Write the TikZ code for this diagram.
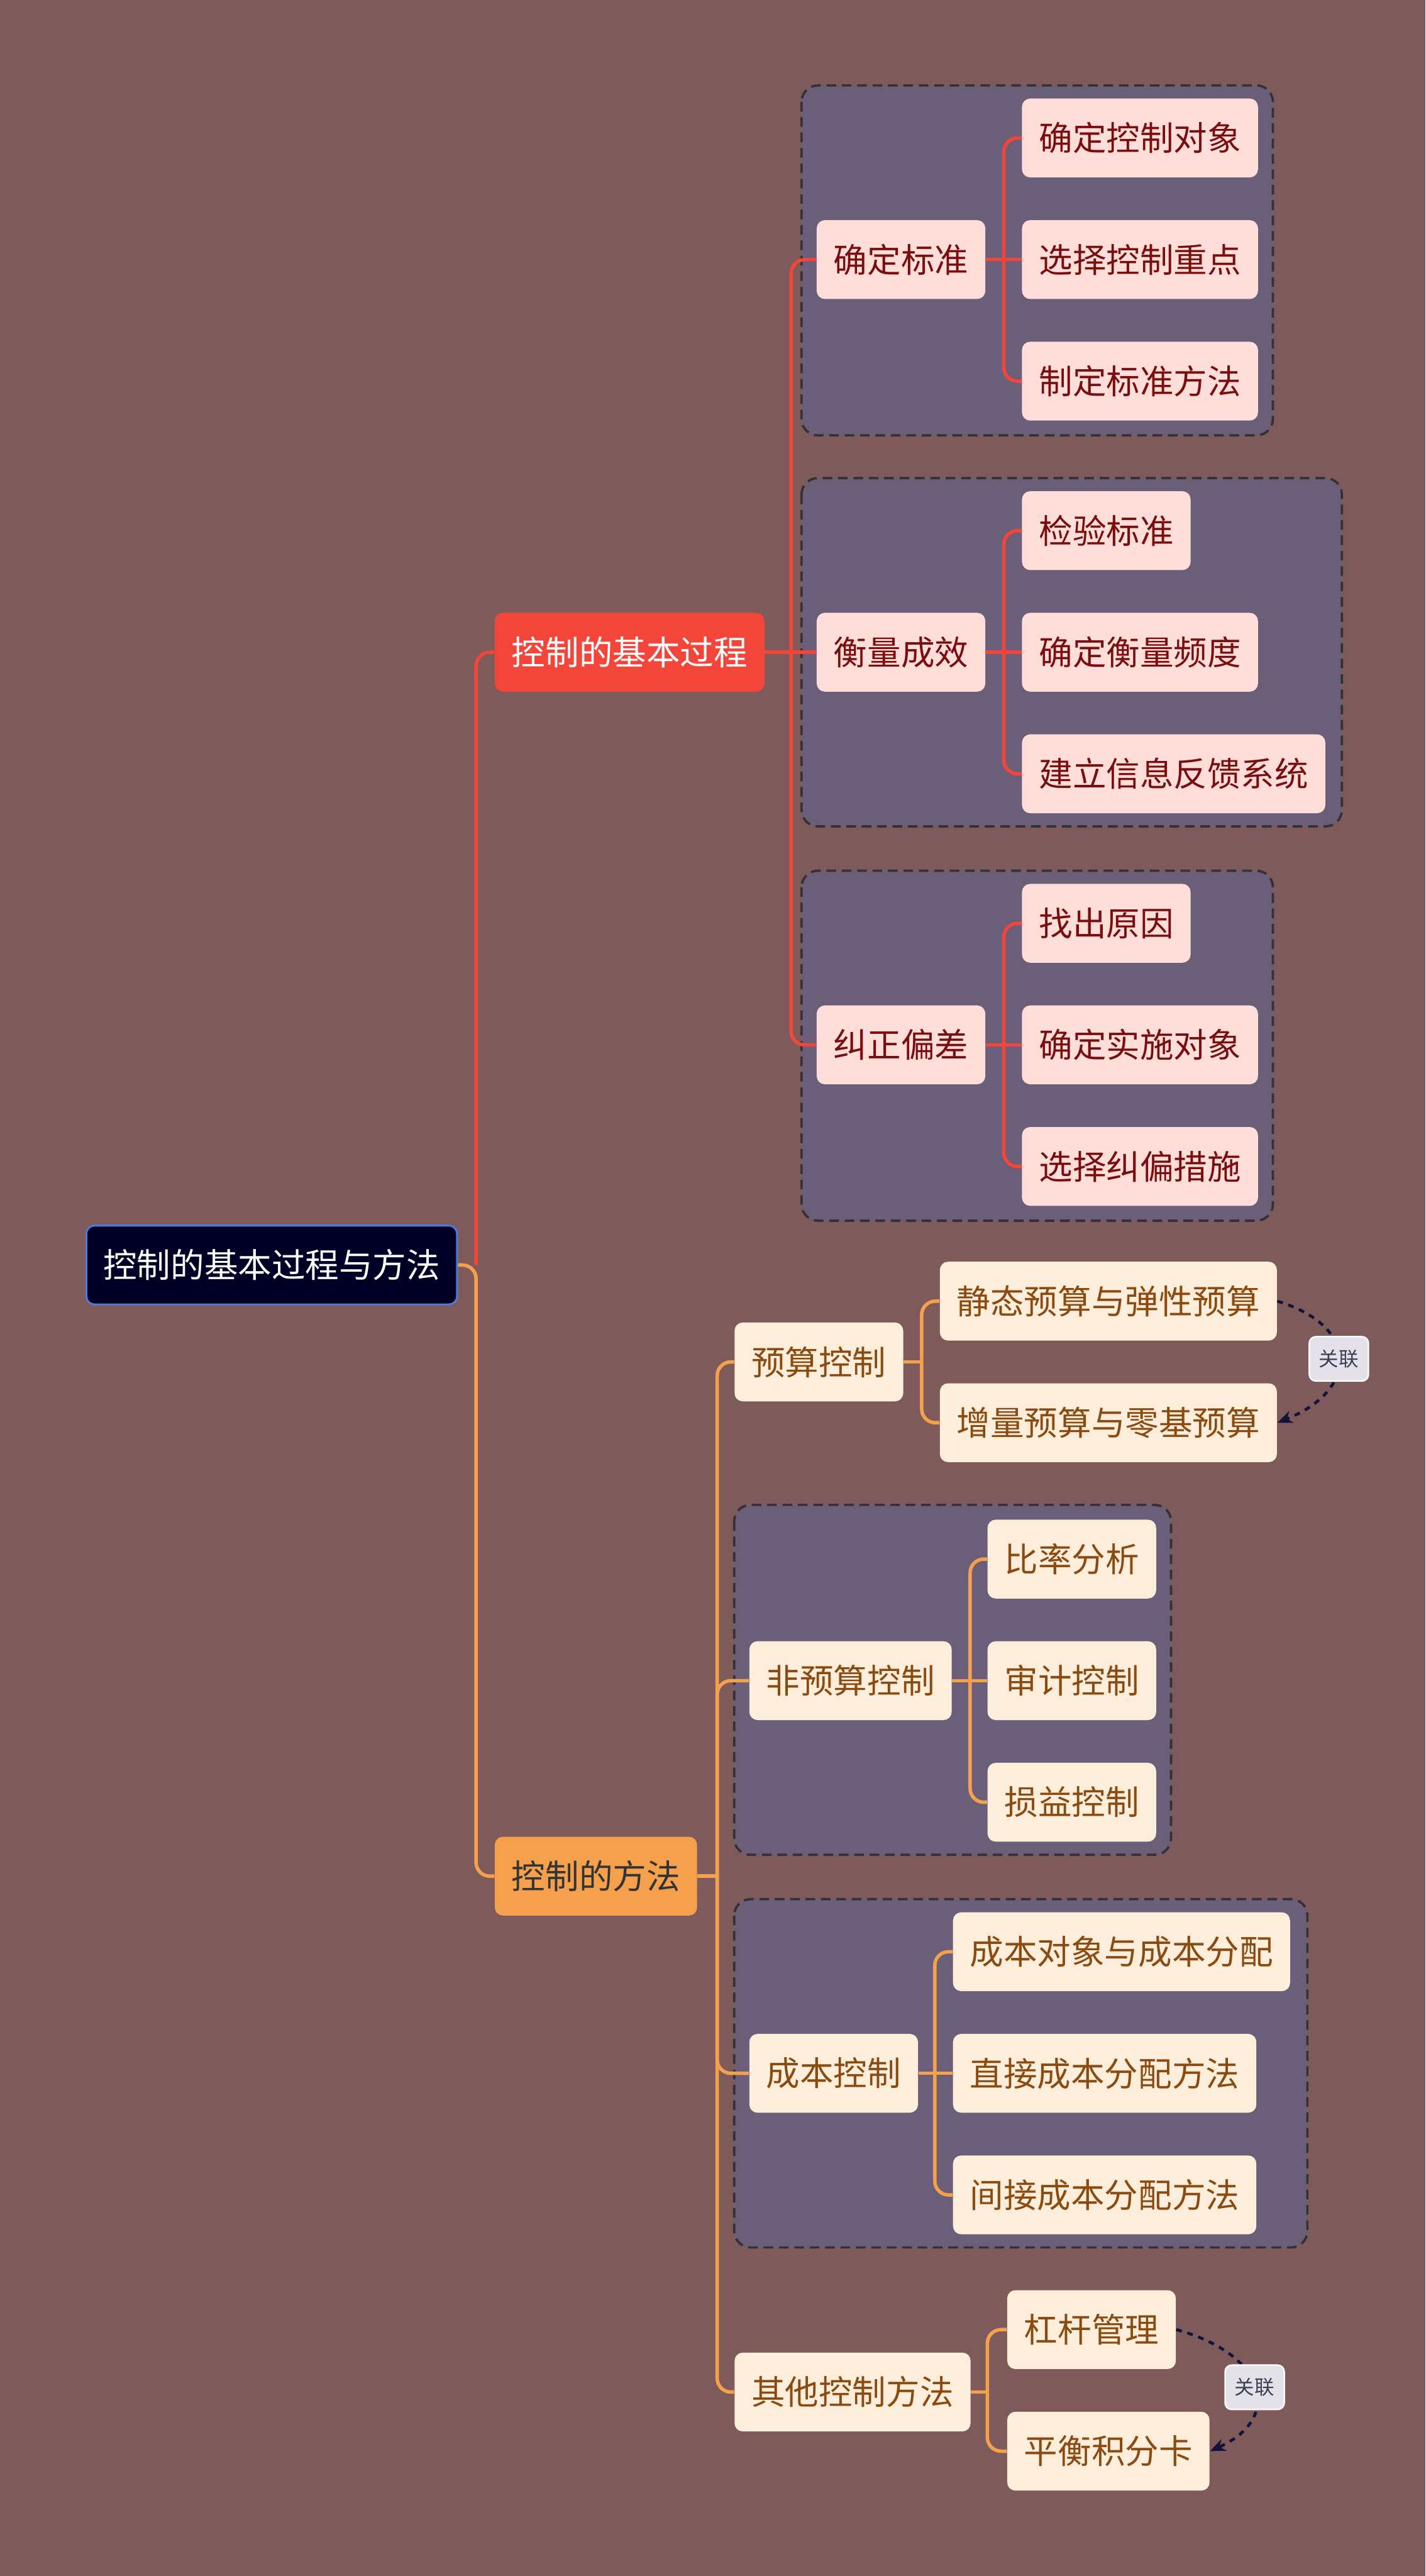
\documentclass[tikz,border=0pt]{standalone}
\usepackage{fontspec}
\setmainfont{Noto Sans CJK SC}
\usetikzlibrary{arrows.meta}
\definecolor{bgc}{HTML}{7F5A5A}
\definecolor{grpc}{HTML}{6B5E78}
\definecolor{grpline}{HTML}{333036}
\definecolor{redc}{HTML}{F4453B}
\definecolor{pinkc}{HTML}{FFDEDA}
\definecolor{redtxt}{HTML}{7A0E0E}
\definecolor{orangec}{HTML}{F5A04C}
\definecolor{creamc}{HTML}{FDEEDC}
\definecolor{browntxt}{HTML}{8A4A10}
\definecolor{rootc}{HTML}{000026}
\definecolor{rootline}{HTML}{4A7BD8}
\definecolor{relc}{HTML}{111438}
\definecolor{lblc}{HTML}{E4E2E8}
\definecolor{lbltxt}{HTML}{3A4154}

\begin{document}
\begin{tikzpicture}[x=0.03cm,y=-0.03cm,>={Stealth[length=8pt,width=6.5pt]},
box/.style={rounded corners=0.15cm,minimum height=1.44cm,inner xsep=0.31cm,inner ysep=0pt,anchor=west,font=\fontsize{17.5}{20}\selectfont},
redleaf/.style={box,fill=pinkc,text=redtxt},
orleaf/.style={box,fill=creamc,text=browntxt},
grp/.style={draw=grpline,fill=grpc,dashed,dash pattern=on 5pt off 3pt,line width=1.2pt,rounded corners=0.3cm},
redln/.style={draw=redc,line width=1.8pt,rounded corners=0.25cm},
orln/.style={draw=orangec,line width=1.8pt,rounded corners=0.25cm},
rel/.style={draw=relc,dashed,line width=1.5pt,->},
lbl/.style={solid,fill=lblc,draw=white!85!lblc,line width=0.8pt,rounded corners=0.12cm,text=lbltxt,minimum width=1.08cm,minimum height=0.81cm,inner sep=0pt,font=\fontsize{10.3}{12}\selectfont}]
\useasboundingbox[fill=bgc](0,0)rectangle(868,1568);
% dashed groups
\draw[grp](488,52)rectangle(775,265);
\draw[grp](488,291)rectangle(817,503);
\draw[grp](488,530)rectangle(775,743);
\draw[grp](447,916)rectangle(713,1129);
\draw[grp](447,1156)rectangle(796,1368);
% root and main branches
\node[box,fill=rootc,draw=rootline,line width=1pt,text=white](root)at(52,770){控制的基本过程与方法};
\node[box,fill=redc,text=white](proc)at(301,397){控制的基本过程};
\node[box,fill=orangec,text=black!80](meth)at(301,1142){控制的方法};
%% basic process
\node[redleaf](std)at(497,158){确定标准};
\node[redleaf](std1)at(622,84){确定控制对象};
\node[redleaf](std2)at(622,158){选择控制重点};
\node[redleaf](std3)at(622,232){制定标准方法};
\node[redleaf](mea)at(497,397){衡量成效};
\node[redleaf](mea1)at(622,323){检验标准};
\node[redleaf](mea2)at(622,397){确定衡量频度};
\node[redleaf](mea3)at(622,471){建立信息反馈系统};
\node[redleaf](cor)at(497,636){纠正偏差};
\node[redleaf](cor1)at(622,562){找出原因};
\node[redleaf](cor2)at(622,636){确定实施对象};
\node[redleaf](cor3)at(622,710){选择纠偏措施};
%% methods
\node[orleaf](bud)at(447,829){预算控制};
\node[orleaf](bud1)at(572,792){静态预算与弹性预算};
\node[orleaf](bud2)at(572,866){增量预算与零基预算};
\node[orleaf](nbud)at(456,1023){非预算控制};
\node[orleaf](nbud1)at(601,949){比率分析};
\node[orleaf](nbud2)at(601,1023){审计控制};
\node[orleaf](nbud3)at(601,1097){损益控制};
\node[orleaf](cost)at(456,1262){成本控制};
\node[orleaf](cost1)at(580,1188){成本对象与成本分配};
\node[orleaf](cost2)at(580,1262){直接成本分配方法};
\node[orleaf](cost3)at(580,1336){间接成本分配方法};
\node[orleaf](oth)at(447,1456){其他控制方法};
\node[orleaf](oth1)at(613,1418){杠杆管理};
\node[orleaf](oth2)at(613,1492){平衡积分卡};
% junction points
\coordinate(root-j)at([xshift=0.33cm]root.east);
\coordinate(proc-j)at([xshift=0.48cm]proc.east);
\coordinate(meth-j)at([xshift=0.36cm]meth.east);
\foreach \p in {std,mea,cor,bud,nbud}
  \coordinate(\p-j)at([xshift=0.33cm]\p.east);
\foreach \p in {cost,oth}
  \coordinate(\p-j)at([xshift=0.3cm]\p.east);
% connectors
\draw[redln](root-j)|-(proc.west);
\draw[orln](root.east)--(root-j)|-(meth.west);
\draw[redln](proc.east)--(mea.west);
\foreach \c in {std,cor}
  \draw[redln](proc-j)|-(\c.west);
\foreach \p in {std,mea,cor}{
  \draw[redln](\p.east)--(\p2.west);
  \draw[redln](\p-j)|-(\p1.west);
  \draw[redln](\p-j)|-(\p3.west);}
\draw[orln](meth.east)--(meth-j);
\foreach \c in {bud,nbud,cost,oth}
  \draw[orln](meth-j)|-(\c.west);
\draw[orln](bud.east)--(bud-j);
\draw[orln](oth.east)--(oth-j);
\foreach \i in {1,2}{
  \draw[orln](bud-j)|-(bud\i.west);
  \draw[orln](oth-j)|-(oth\i.west);}
\foreach \p in {nbud,cost}{
  \draw[orln](\p.east)--(\p2.west);
  \draw[orln](\p-j)|-(\p1.west);
  \draw[orln](\p-j)|-(\p3.west);}
% relations
\draw[rel](bud1.east)..controls +(50,15) and +(50,-20)..(bud2.east)node[lbl,pos=0.5](rel1){关联};
\draw[rel](oth1.east)..controls +(55,15) and +(45,-20)..(oth2.east)node[lbl,pos=0.5](rel2){关联};
\end{tikzpicture}
\end{document}
